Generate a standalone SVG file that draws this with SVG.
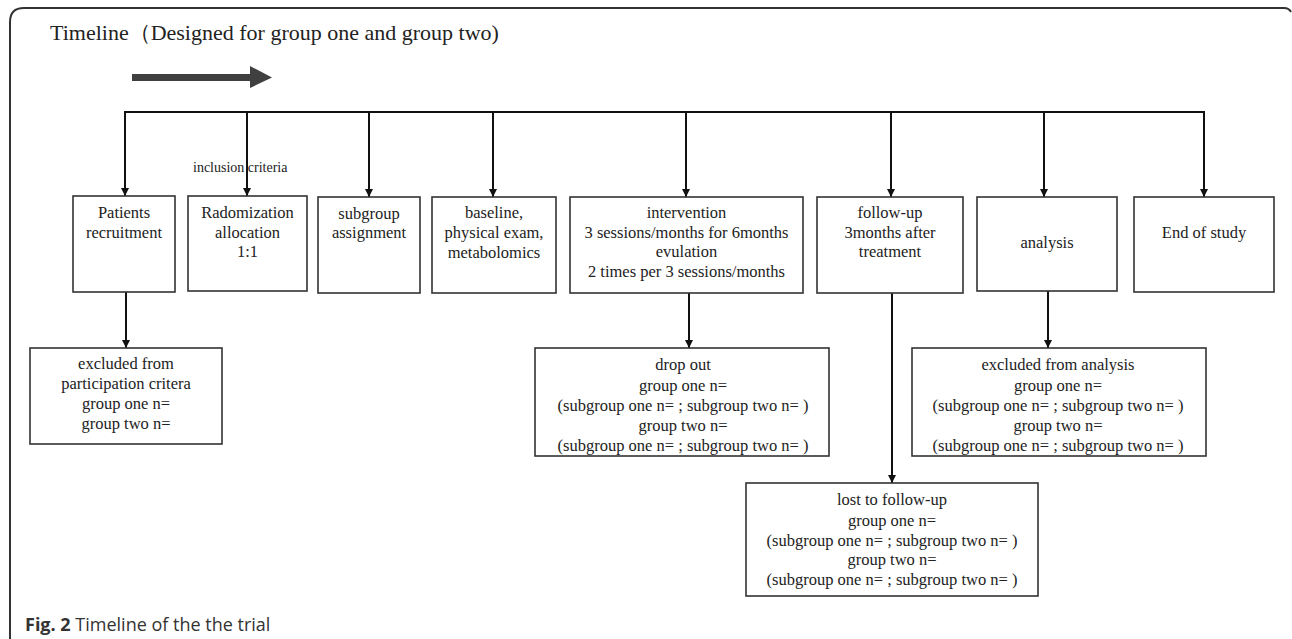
<svg xmlns="http://www.w3.org/2000/svg" width="1292" height="639" viewBox="0 0 1292 639">
<style>
.box{fill:#fff;stroke:#333;stroke-width:1.6}
.t{font-family:"Liberation Serif","Times New Roman",serif;font-size:16.5px;fill:#222;text-anchor:middle}
.s{font-family:"Liberation Serif","Times New Roman",serif;font-size:14px;fill:#222}
.c{stroke:#111;stroke-width:2;fill:none}
.cap{font-family:"Open Sans","Liberation Sans",sans-serif;font-size:18px;fill:#333}
</style>
<defs>
<marker id="ah" markerUnits="userSpaceOnUse" markerWidth="10" markerHeight="10" refX="8" refY="4" orient="auto">
<path d="M0,0 L8,4 L0,8 z" fill="#111"/>
</marker>
</defs>
<rect width="1292" height="639" fill="#fff"/>
<path d="M10,639 V22 Q10,8 24,8 H1284 Q1289,8 1291,12" fill="none" stroke="#333" stroke-width="2"/>
<text x="50" y="40" font-family="Liberation Serif,'Times New Roman',serif" font-size="22" fill="#222">Timeline（Designed for group one and group two)</text>
<path d="M132,74 H250 V66 L272,77.5 L250,88 V81 H132 z" fill="#404040"/>
<g id="connectors">
<path class="c" d="M124,112 H1205"/>
<path class="c" d="M125,112 V196" marker-end="url(#ah)"/>
<path class="c" d="M247,112 V196" marker-end="url(#ah)"/>
<path class="c" d="M369,112 V197" marker-end="url(#ah)"/>
<path class="c" d="M493,112 V197" marker-end="url(#ah)"/>
<path class="c" d="M686,112 V197" marker-end="url(#ah)"/>
<path class="c" d="M891,112 V197" marker-end="url(#ah)"/>
<path class="c" d="M1044,112 V197" marker-end="url(#ah)"/>
<path class="c" d="M1204,112 V197" marker-end="url(#ah)"/>
<path class="c" d="M126,292 V348" marker-end="url(#ah)"/>
<path class="c" d="M689,293 V348" marker-end="url(#ah)"/>
<path class="c" d="M892,293 V483" marker-end="url(#ah)"/>
<path class="c" d="M1048,291 V348" marker-end="url(#ah)"/>
</g>
<text class="s" x="193" y="172">inclusion  criteria</text>
<g id="n-patients">
<rect class="box" x="73" y="196" width="102" height="96"/>
<text class="t" x="124" y="218">Patients</text>
<text class="t" x="124" y="238">recruitment</text>
</g>
<g id="n-random">
<rect class="box" x="188" y="196" width="119" height="95"/>
<text class="t" x="247.5" y="218">Radomization</text>
<text class="t" x="247.5" y="238">allocation</text>
<text class="t" x="247.5" y="257">1:1</text>
</g>
<g id="n-subgroup">
<rect class="box" x="318" y="197" width="102" height="96"/>
<text class="t" x="369" y="219">subgroup</text>
<text class="t" x="369" y="238">assignment</text>
</g>
<g id="n-baseline">
<rect class="box" x="432" y="197" width="124" height="96"/>
<text class="t" x="494" y="218">baseline,</text>
<text class="t" x="494" y="238">physical exam,</text>
<text class="t" x="494" y="258">metabolomics</text>
</g>
<g id="n-intervention">
<rect class="box" x="570" y="197" width="233" height="96"/>
<text class="t" x="686.5" y="218">intervention</text>
<text class="t" x="686.5" y="238">3 sessions/months for 6months</text>
<text class="t" x="686.5" y="257">evulation</text>
<text class="t" x="686.5" y="277">2 times per 3 sessions/months</text>
</g>
<g id="n-followup">
<rect class="box" x="817" y="197" width="146" height="96"/>
<text class="t" x="890" y="218">follow-up</text>
<text class="t" x="890" y="238">3months after</text>
<text class="t" x="890" y="257">treatment</text>
</g>
<g id="n-analysis">
<rect class="box" x="977" y="197" width="140" height="94"/>
<text class="t" x="1047" y="248">analysis</text>
</g>
<g id="n-end">
<rect class="box" x="1134" y="197" width="140" height="95"/>
<text class="t" x="1204" y="238">End of study</text>
</g>
<g id="n-excluded">
<rect class="box" x="30" y="348" width="192" height="96"/>
<text class="t" x="126" y="369">excluded from</text>
<text class="t" x="126" y="389">participation critera</text>
<text class="t" x="126" y="409">group one n=</text>
<text class="t" x="126" y="429">group two n=</text>
</g>
<g id="n-dropout">
<rect class="box" x="535" y="348" width="294" height="108"/>
<text class="t" x="683" y="370">drop out</text>
<text class="t" x="683" y="391">group one n=</text>
<text class="t" x="683" y="411">(subgroup one n= ; subgroup two n=  )</text>
<text class="t" x="683" y="431">group two n=</text>
<text class="t" x="683" y="451">(subgroup one n= ; subgroup two n=  )</text>
</g>
<g id="n-excl-analysis">
<rect class="box" x="912" y="348" width="294" height="108"/>
<text class="t" x="1058" y="370">excluded from analysis</text>
<text class="t" x="1058" y="391">group one n=</text>
<text class="t" x="1058" y="411">(subgroup one n= ; subgroup two n=  )</text>
<text class="t" x="1058" y="431">group two n=</text>
<text class="t" x="1058" y="451">(subgroup one n= ; subgroup two n=  )</text>
</g>
<g id="n-lost">
<rect class="box" x="746" y="483" width="292" height="113"/>
<text class="t" x="892" y="505">lost to follow-up</text>
<text class="t" x="892" y="526">group one n=</text>
<text class="t" x="892" y="546">(subgroup one n= ; subgroup two n=  )</text>
<text class="t" x="892" y="565">group two n=</text>
<text class="t" x="892" y="585">(subgroup one n= ; subgroup two n=  )</text>
</g>
<text class="cap" x="25" y="631"><tspan font-weight="bold">Fig. 2</tspan> Timeline of the the trial</text>
</svg>
